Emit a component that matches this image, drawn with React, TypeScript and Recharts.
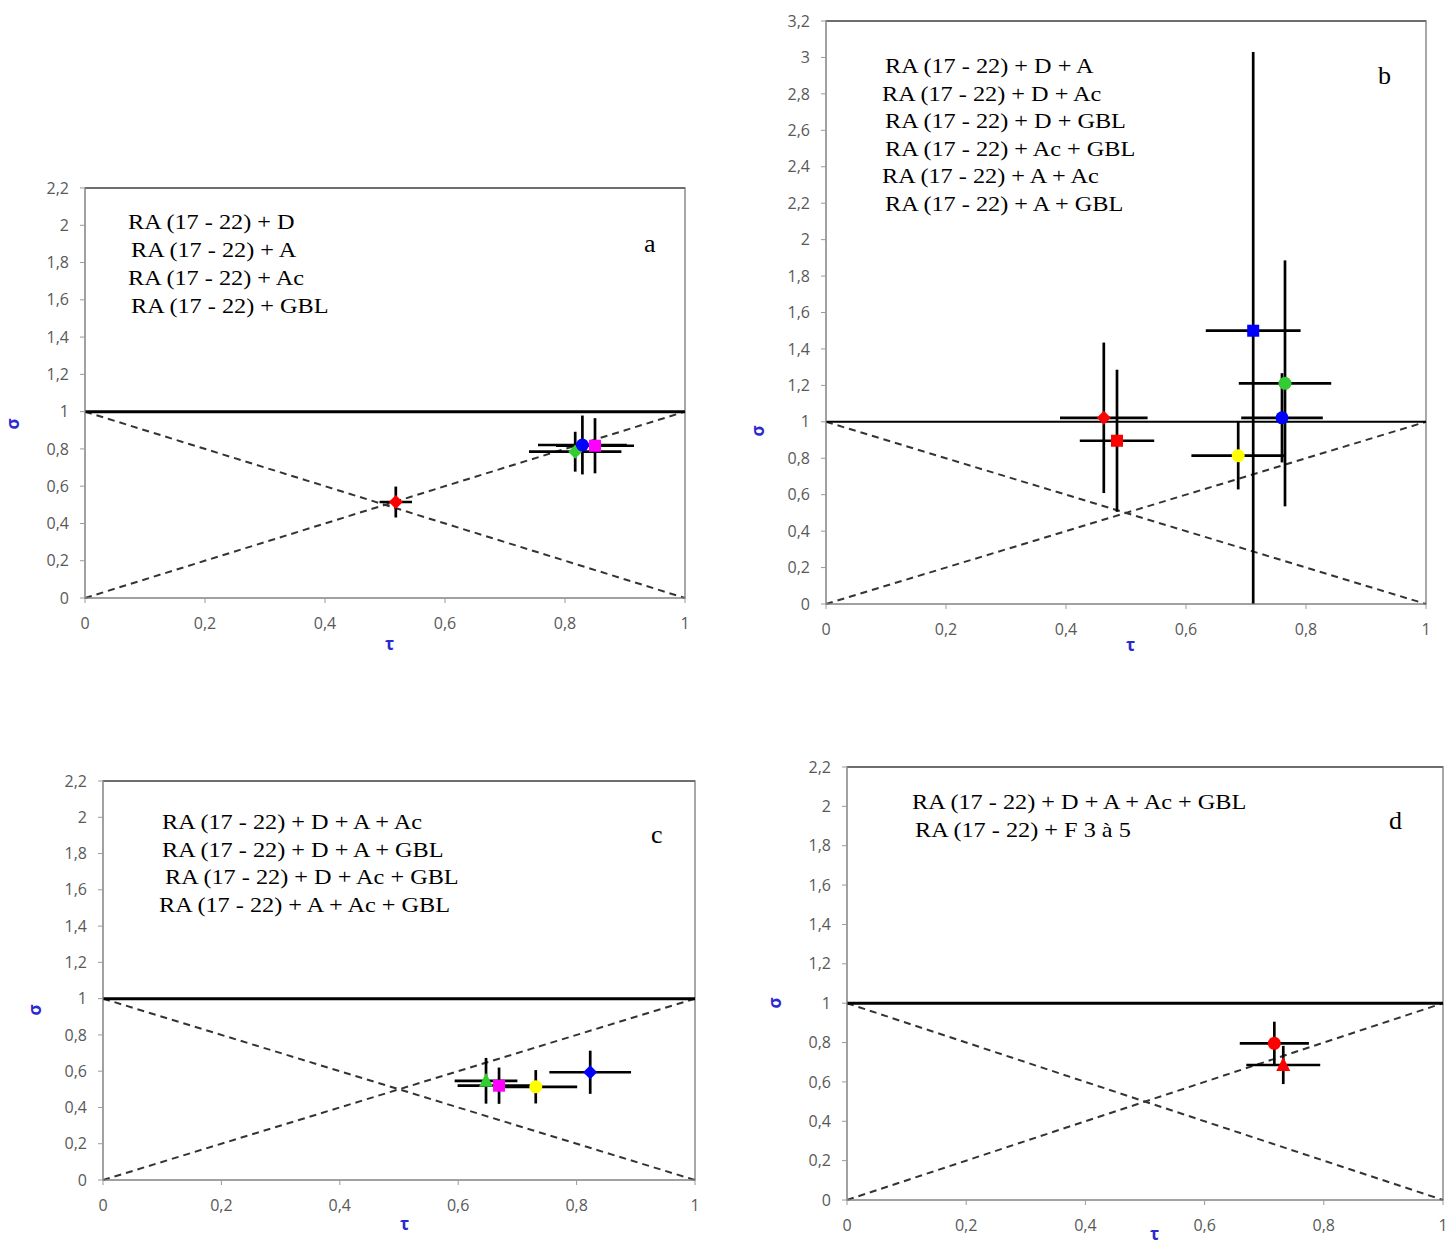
import { ScatterChart, Scatter, XAxis, YAxis, ErrorBar, ReferenceLine, ReferenceArea } from 'recharts';

// tau / sigma coordinates with their half error bars, one array per quantity and panel

// a : RA (17 - 22) + one additive
const tauA = [0.518, 0.817, 0.829, 0.85];
const sigmaA = [0.515, 0.785, 0.821, 0.817];
const errTauA = [0.027, 0.077, 0.074, 0.065];
const errSigmaA = [0.083, 0.107, 0.158, 0.148];

// b : RA (17 - 22) + two additives
const tauB = [0.463, 0.485, 0.712, 0.765, 0.76, 0.687];
const sigmaB = [1.022, 0.896, 1.5, 1.211, 1.022, 0.814];
const errTauB = [0.073, 0.062, 0.079, 0.077, 0.068, 0.078];
const errSigmaB: (number | [number, number])[] = [0.413, 0.39, [1.5, 1.53], 0.675, 0.245, 0.185];

// c : RA (17 - 22) + three additives
const tauC = [0.647, 0.669, 0.731, 0.823];
const sigmaC = [0.547, 0.52, 0.514, 0.594];
const errTauC = [0.053, 0.07, 0.07, 0.069];
const errSigmaC = [0.126, 0.1, 0.092, 0.119];

// d : all additives / F 3 à 5
const tauD = [0.717, 0.732];
const sigmaD = [0.796, 0.686];
const errTauD = [0.058, 0.062];
const errSigmaD = [0.11, 0.097];

const tauTicks = [0, 0.2, 0.4, 0.6, 0.8, 1];
const sigmaTicks22 = [0, 0.2, 0.4, 0.6, 0.8, 1, 1.2, 1.4, 1.6, 1.8, 2, 2.2];
const sigmaTicks32 = [0, 0.2, 0.4, 0.6, 0.8, 1, 1.2, 1.4, 1.6, 1.8, 2, 2.2, 2.4, 2.6, 2.8, 3, 3.2];

const legendA = ['RA (17 - 22) + D', 'RA (17 - 22) + A', 'RA (17 - 22) + Ac', 'RA (17 - 22) + GBL'];
const legendB = [
  'RA (17 - 22) + D + A',
  'RA (17 - 22) + D + Ac',
  'RA (17 - 22) + D + GBL',
  'RA (17 - 22) + Ac + GBL',
  'RA (17 - 22) + A + Ac',
  'RA (17 - 22) + A + GBL',
];
const legendC = [
  'RA (17 - 22) + D + A + Ac',
  'RA (17 - 22) + D + A + GBL',
  'RA (17 - 22) + D + Ac + GBL',
  'RA (17 - 22) + A + Ac + GBL',
];
const legendD = ['RA (17 - 22) + D + A + Ac + GBL', 'RA (17 - 22) + F 3 à 5'];

type Shape = 'diamond' | 'circle' | 'square' | 'triangle';
type Marker = { shape: Shape; color: string };

const RED = '#ff0000';
const GREEN = '#33cc33';
const BLUE = '#0000ff';
const MAGENTA = '#ff00ff';
const YELLOW = '#ffff00';

const markersA: Marker[] = [
  { shape: 'diamond', color: RED },
  { shape: 'diamond', color: GREEN },
  { shape: 'circle', color: BLUE },
  { shape: 'square', color: MAGENTA },
];
const markersB: Marker[] = [
  { shape: 'diamond', color: RED },
  { shape: 'square', color: RED },
  { shape: 'square', color: BLUE },
  { shape: 'circle', color: GREEN },
  { shape: 'circle', color: BLUE },
  { shape: 'circle', color: YELLOW },
];
const markersC: Marker[] = [
  { shape: 'triangle', color: GREEN },
  { shape: 'square', color: MAGENTA },
  { shape: 'circle', color: YELLOW },
  { shape: 'diamond', color: BLUE },
];
const markersD: Marker[] = [
  { shape: 'circle', color: RED },
  { shape: 'triangle', color: RED },
];

const fmt = (v: number) => String(v).replace('.', ',');

function markerShape(m: Marker) {
  return (props: any) => {
    const { cx, cy } = props;
    if (cx == null || cy == null) return <g />;
    switch (m.shape) {
      case 'diamond':
        return <polygon points={`${cx},${cy - 7} ${cx + 7},${cy} ${cx},${cy + 7} ${cx - 7},${cy}`} fill={m.color} />;
      case 'square':
        return <rect x={cx - 6} y={cy - 6} width={12} height={12} fill={m.color} />;
      case 'triangle':
        return <polygon points={`${cx},${cy - 8} ${cx + 7},${cy + 6} ${cx - 7},${cy + 6}`} fill={m.color} />;
      default:
        return <circle cx={cx} cy={cy} r={6.5} fill={m.color} />;
    }
  };
}

type PanelProps = {
  left: number;
  top: number;
  plotW: number;
  plotH: number;
  yMax: number;
  yTicks: number[];
  tau: number[];
  sigma: number[];
  errTau: number[];
  errSigma: (number | [number, number])[];
  markers: Marker[];
  hLineWidth: number;
};

const tickStyle = { fill: '#595959', fontSize: 16, fontFamily: 'Open Sans' };

function Panel(p: PanelProps) {
  const width = p.plotW + 75;
  const height = p.plotH + 60;
  return (
    <div style={{ position: 'absolute', left: p.left - 60, top: p.top - 10 }}>
      <ScatterChart width={width} height={height} margin={{ top: 10, right: 15, bottom: 0, left: 0 }}>
        <XAxis
          type="number"
          dataKey="x"
          domain={[0, 1]}
          ticks={tauTicks}
          allowDataOverflow
          tickFormatter={fmt}
          height={50}
          stroke="#9a9a9a"
          tickSize={5}
          tickMargin={15}
          tick={tickStyle}
        />
        <YAxis
          type="number"
          dataKey="y"
          domain={[0, p.yMax]}
          ticks={p.yTicks}
          allowDataOverflow
          interval={0}
          tickFormatter={fmt}
          width={60}
          stroke="#9a9a9a"
          tickSize={5}
          tickMargin={11}
          tick={tickStyle}
        />
        <ReferenceArea x1={0} x2={1} y1={0} y2={p.yMax} fill="none" stroke="#8c8c8c" strokeWidth={1.5} />
        <ReferenceLine y={p.yMax} stroke="#6e6e6e" strokeWidth={2} />
        <ReferenceLine
          segment={[{ x: 0, y: 1 }, { x: 1, y: 0 }]}
          stroke="#333"
          strokeWidth={2}
          strokeDasharray="7 5"
        />
        <ReferenceLine
          segment={[{ x: 0, y: 0 }, { x: 1, y: 1 }]}
          stroke="#333"
          strokeWidth={2}
          strokeDasharray="7 5"
        />
        <ReferenceLine y={1} stroke="#000" strokeWidth={p.hLineWidth} />
        {p.tau.map((t, i) => (
          <Scatter
            key={i}
            data={[{ x: t, y: p.sigma[i], ex: p.errTau[i], ey: p.errSigma[i] }]}
            shape={markerShape(p.markers[i])}
            isAnimationActive={false}
          >
            <ErrorBar dataKey="ex" direction="x" width={0} stroke="#000" strokeWidth={2.7} />
            <ErrorBar dataKey="ey" direction="y" width={0} stroke="#000" strokeWidth={2.7} />
          </Scatter>
        ))}
      </ScatterChart>
    </div>
  );
}

const serif: React.CSSProperties = {
  position: 'absolute',
  fontFamily: '"Liberation Serif", "Times New Roman", serif',
  fontSize: 21,
  lineHeight: '22px',
  color: '#000',
  whiteSpace: 'nowrap',
};

const axisName: React.CSSProperties = {
  position: 'absolute',
  fontFamily: '"Open Sans", sans-serif',
  fontWeight: 700,
  fontSize: 17,
  color: '#2a2ad0',
  lineHeight: '20px',
};

function Legend({ lines, xs, y0, step }: { lines: string[]; xs: number[]; y0: number; step: number }) {
  return (
    <>
      {lines.map((s, i) => (
        <div
          key={i}
          style={{
            ...serif,
            left: xs[i],
            top: y0 + i * step - 11,
            transform: 'scaleX(1.155)',
            transformOrigin: 'left center',
          }}
        >
          {s}
        </div>
      ))}
    </>
  );
}

function Sigma({ x, y }: { x: number; y: number }) {
  return <div style={{ ...axisName, left: x - 6, top: y - 10, transform: 'rotate(-90deg)' }}>σ</div>;
}

function Tau({ x, y }: { x: number; y: number }) {
  return <div style={{ ...axisName, left: x - 5, top: y - 11 }}>τ</div>;
}

function Letter({ x, y, s }: { x: number; y: number; s: string }) {
  return <div style={{ ...serif, fontSize: 26, left: x - 7, top: y - 13 }}>{s}</div>;
}

export default function App() {
  return (
    <div style={{ position: 'absolute', left: 0, top: 0, width: 1448, height: 1246, background: '#fff', overflow: 'hidden' }}>
      <Panel left={85} top={188} plotW={600} plotH={410} yMax={2.2} yTicks={sigmaTicks22}
        tau={tauA} sigma={sigmaA} errTau={errTauA} errSigma={errSigmaA} markers={markersA} hLineWidth={3} />
      <Panel left={826} top={21} plotW={600} plotH={583} yMax={3.2} yTicks={sigmaTicks32}
        tau={tauB} sigma={sigmaB} errTau={errTauB} errSigma={errSigmaB} markers={markersB} hLineWidth={2} />
      <Panel left={103} top={781} plotW={592} plotH={399} yMax={2.2} yTicks={sigmaTicks22}
        tau={tauC} sigma={sigmaC} errTau={errTauC} errSigma={errSigmaC} markers={markersC} hLineWidth={3} />
      <Panel left={847} top={767} plotW={596} plotH={433} yMax={2.2} yTicks={sigmaTicks22}
        tau={tauD} sigma={sigmaD} errTau={errTauD} errSigma={errSigmaD} markers={markersD} hLineWidth={3} />

      <Legend lines={legendA} xs={[128, 131, 128, 131]} y0={222} step={28} />
      <Legend lines={legendB} xs={[885, 882, 885, 885, 882, 885]} y0={66} step={27.6} />
      <Legend lines={legendC} xs={[162, 162, 165, 159]} y0={822} step={27.7} />
      <Legend lines={legendD} xs={[912, 915]} y0={802} step={28} />

      <Letter x={651} y={246} s="a" />
      <Letter x={1385} y={78} s="b" />
      <Letter x={658} y={837} s="c" />
      <Letter x={1396} y={823} s="d" />

      <Sigma x={13} y={424} />
      <Sigma x={758} y={431} />
      <Sigma x={35} y={1010} />
      <Sigma x={775} y={1003} />

      <Tau x={390} y={645} />
      <Tau x={1131} y={646} />
      <Tau x={405} y={1225} />
      <Tau x={1155} y={1235} />
    </div>
  );
}
